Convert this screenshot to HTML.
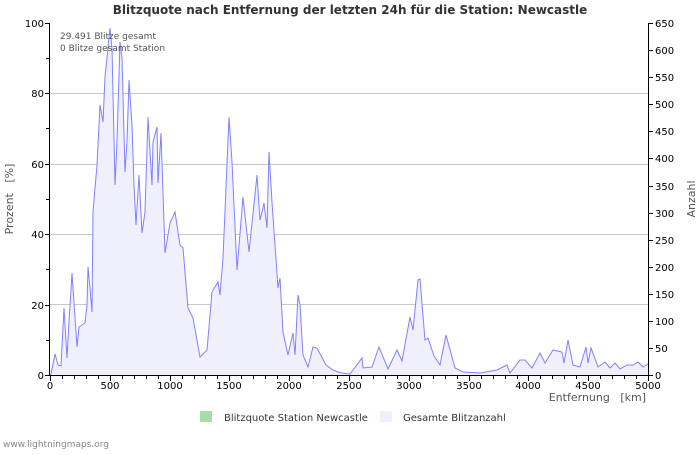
<!DOCTYPE html>
<html><head><style>
body{margin:0;background:#fff;}
svg text{font-family:"DejaVu Sans","Liberation Sans",sans-serif;white-space:pre;}
</style></head><body>
<svg width="700" height="450" viewBox="0 0 700 450" xmlns="http://www.w3.org/2000/svg">
<rect width="700" height="450" fill="#fff"/>
<text x="350" y="14" font-size="12" font-weight="bold" text-anchor="middle" fill="#333">Blitzquote nach Entfernung der letzten 24h für die Station: Newcastle</text>
<g stroke="#c8c8c8" stroke-width="1">
<line x1="50" y1="93.5" x2="648" y2="93.5"/>
<line x1="50" y1="164.5" x2="648" y2="164.5"/>
<line x1="50" y1="234.5" x2="648" y2="234.5"/>
<line x1="50" y1="304.5" x2="648" y2="304.5"/>
</g>
<polygon fill="#f0f0fc" stroke="none" points="50,375 51,374 55,354 58,365 61,366 64,308 67,358 69,322 72,273 77,347 79,327 85,323 87,305 88,267 90,288 92,312 93,212 97,165 100,105 103,122 105,77 110,28 112,48 115,185 117,142 120,42 122,58 125,172 127,142 129,80 132,125 134,185 136,225 139,175 142,233 145,212 148,117 152,185 153,142 157,127 158,183 161,133 165,253 170,223 175,212 180,245 183,248 188,308 193,318 200,357 207,350 212,292 218,282 220,295 223,258 229,117 232,162 237,270 243,197 249,252 257,175 260,220 264,203 267,228 269,152 272,202 278,288 280,278 283,332 288,355 293,333 295,355 298,295 300,305 303,355 308,367 313,347 317,348 326,365 333,370 338,372 342,373 350,374 362,358 363,368 372,367 379,347 388,369 397,350 402,361 410,317 413,330 418,280 420,279 425,340 428,338 434,356 440,365 446,335 455,368 463,372 480,373 497,370 507,365 510,373 520,360 525,360 532,368 540,353 545,363 553,350 562,352 564,363 568,340 573,365 580,367 586,347 588,363 591,348 598,367 605,362 610,368 615,363 620,369 627,365 633,365 638,362 643,367 648,364 648,375"/>
<polyline fill="none" stroke="#8080ff" stroke-width="1" points="50,375 51,374 55,354 58,365 61,366 64,308 67,358 69,322 72,273 77,347 79,327 85,323 87,305 88,267 90,288 92,312 93,212 97,165 100,105 103,122 105,77 110,28 112,48 115,185 117,142 120,42 122,58 125,172 127,142 129,80 132,125 134,185 136,225 139,175 142,233 145,212 148,117 152,185 153,142 157,127 158,183 161,133 165,253 170,223 175,212 180,245 183,248 188,308 193,318 200,357 207,350 212,292 218,282 220,295 223,258 229,117 232,162 237,270 243,197 249,252 257,175 260,220 264,203 267,228 269,152 272,202 278,288 280,278 283,332 288,355 293,333 295,355 298,295 300,305 303,355 308,367 313,347 317,348 326,365 333,370 338,372 342,373 350,374 362,358 363,368 372,367 379,347 388,369 397,350 402,361 410,317 413,330 418,280 420,279 425,340 428,338 434,356 440,365 446,335 455,368 463,372 480,373 497,370 507,365 510,373 520,360 525,360 532,368 540,353 545,363 553,350 562,352 564,363 568,340 573,365 580,367 586,347 588,363 591,348 598,367 605,362 610,368 615,363 620,369 627,365 633,365 638,362 643,367 648,364"/>
<g stroke="#000" stroke-width="1">
<line x1="49.5" y1="23" x2="49.5" y2="376"/>
<line x1="49" y1="375.5" x2="648" y2="375.5"/>
<line x1="648.5" y1="23" x2="648.5" y2="376"/>
<path d="M45 375.5h5M46 340.5h4M45 305.5h5M46 269.5h4M45 234.5h5M46 199.5h4M45 164.5h5M46 128.5h4M45 93.5h5M46 58.5h4M45 23.5h5"/>
<path d="M648 375.5h5M648 348.5h5M648 321.5h5M648 294.5h5M648 267.5h5M648 240.5h5M648 213.5h5M648 186.5h5M648 158.5h5M648 131.5h5M648 104.5h5M648 77.5h5M648 50.5h5M648 23.5h5"/>
<path d="M50.5 376v5M62.5 376v3M74.5 376v3M86.5 376v3M98.5 376v3M110.5 376v5M122.5 376v3M134.5 376v3M146.5 376v3M158.5 376v3M170.5 376v5M182.5 376v3M194.5 376v3M205.5 376v3M217.5 376v3M229.5 376v5M241.5 376v3M253.5 376v3M265.5 376v3M277.5 376v3M289.5 376v5M301.5 376v3M313.5 376v3M325.5 376v3M337.5 376v3M349.5 376v5M361.5 376v3M373.5 376v3M385.5 376v3M397.5 376v3M409.5 376v5M421.5 376v3M433.5 376v3M445.5 376v3M457.5 376v3M469.5 376v5M481.5 376v3M493.5 376v3M505.5 376v3M517.5 376v3M528.5 376v5M540.5 376v3M552.5 376v3M564.5 376v3M576.5 376v3M588.5 376v5M600.5 376v3M612.5 376v3M624.5 376v3M636.5 376v3M648.5 376v5"/>
</g>
<g font-size="10" fill="#000">
<text x="44" y="379" text-anchor="end">0</text>
<text x="44" y="309" text-anchor="end">20</text>
<text x="44" y="238" text-anchor="end">40</text>
<text x="44" y="168" text-anchor="end">60</text>
<text x="44" y="97" text-anchor="end">80</text>
<text x="44" y="27" text-anchor="end">100</text>
</g>
<g font-size="10" fill="#000" text-anchor="middle">
<text x="50" y="389">0</text><text x="110" y="389">500</text><text x="170" y="389">1000</text><text x="229" y="389">1500</text><text x="289" y="389">2000</text><text x="349" y="389">2500</text><text x="409" y="389">3000</text><text x="469" y="389">3500</text><text x="528" y="389">4000</text><text x="588" y="389">4500</text><text x="648" y="389">5000</text>
</g>
<g font-size="10" fill="#000">
<text x="655" y="379">0</text><text x="655" y="352">50</text><text x="655" y="325">100</text><text x="655" y="298">150</text><text x="655" y="271">200</text><text x="655" y="244">250</text><text x="655" y="217">300</text><text x="655" y="190">350</text><text x="655" y="162">400</text><text x="655" y="135">450</text><text x="655" y="108">500</text><text x="655" y="81">550</text><text x="655" y="54">600</text><text x="655" y="27">650</text>
</g>
<text x="646" y="401" font-size="11" fill="#555" text-anchor="end">Entfernung   [km]</text>
<text transform="translate(13,199) rotate(-90)" font-size="11" fill="#555" text-anchor="middle">Prozent   [%]</text>
<text transform="translate(695,199) rotate(-90)" font-size="11" fill="#555" text-anchor="middle">Anzahl</text>
<text x="60" y="39" font-size="9" fill="#555">29.491 Blitze gesamt</text>
<text x="60" y="51" font-size="9" fill="#555">0 Blitze gesamt Station</text>
<rect x="200" y="411" width="12" height="11" fill="#a8dca8"/>
<text x="224" y="421" font-size="10" fill="#333">Blitzquote Station Newcastle</text>
<rect x="380" y="411" width="12" height="11" fill="#f0f0fc"/>
<text x="403" y="421" font-size="10" fill="#333">Gesamte Blitzanzahl</text>
<text x="3" y="447" font-size="9" fill="#888">www.lightningmaps.org</text>
</svg>
</body></html>
